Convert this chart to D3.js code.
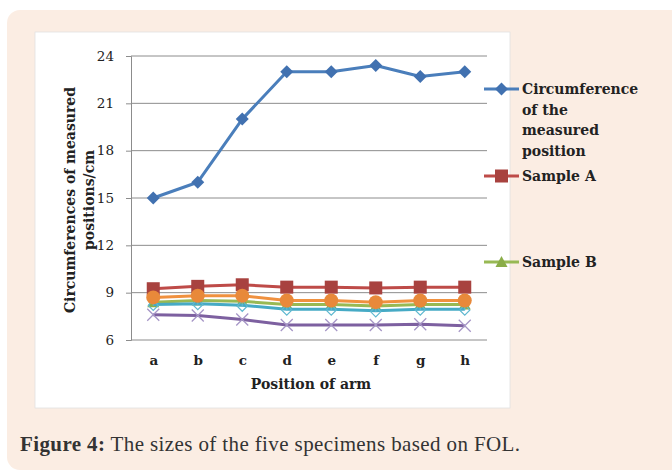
<!DOCTYPE html>
<html><head><meta charset="utf-8">
<script src="https://cdn.jsdelivr.net/npm/d3@7"></script>
<style>
html,body{margin:0;padding:0;background:#fff;}
svg{display:block;}
</style></head>
<body>
<svg id="chart" width="672" height="476"></svg>
<script>
const categories = ["a","b","c","d","e","f","g","h"];
const seriesNames = ["Circumference of the measured position","Sample A","Sample B","Sample C","Sample D","Sample E"];
const circumference = [15, 16, 20, 23, 23, 23.4, 22.7, 23];
const sampleA = [9.25, 9.4, 9.5, 9.35, 9.35, 9.3, 9.35, 9.35];
const sampleB = [8.4, 8.5, 8.45, 8.25, 8.25, 8.15, 8.25, 8.25];
const sampleC = [7.6, 7.55, 7.3, 6.95, 6.95, 6.95, 7.0, 6.9];
const sampleD = [8.25, 8.3, 8.2, 7.95, 7.95, 7.85, 7.95, 7.95];
const sampleE = [8.7, 8.8, 8.8, 8.5, 8.5, 8.4, 8.5, 8.5];
const yTicks = [6, 9, 12, 15, 18, 21, 24];
const legendShown = [0, 1, 2];

const seriesValues = [circumference, sampleA, sampleB, sampleC, sampleD, sampleE];
const colors = ["#4a7ebb", "#be4b48", "#98b954", "#7d60a0", "#46aac5", "#f0913f"];
const markerColors = ["#4171b0", "#a8423f", "#8aad48", "#a595c6", "#5fb8d0", "#e8893a"];
const markerTypes = ["diamond", "square", "triangle", "x", "star", "circle"];

const svg = d3.select("#chart");
const serif = "'DejaVu Serif', 'Liberation Serif', serif";

// background panels
svg.append("rect").attr("x", 7).attr("y", 10).attr("width", 690).attr("height", 460)
  .attr("rx", 13).attr("fill", "#fbede3");
svg.append("rect").attr("x", 35).attr("y", 32).attr("width", 475).attr("height", 376)
  .attr("fill", "#ffffff").attr("stroke", "#e2e2e2").attr("stroke-width", 0.8);

const x = d3.scalePoint().domain(categories).range([131, 487]).padding(0.5);
const y = d3.scaleLinear().domain([6, 24]).range([340, 56]);

// grid
svg.append("g").selectAll("line").data(yTicks.slice(1)).join("line")
  .attr("x1", 131).attr("x2", 487)
  .attr("y1", d => y(d)).attr("y2", d => y(d))
  .attr("stroke", "#8c8c8c").attr("stroke-width", 1);

// y axis
const yAxis = d3.axisLeft(y).tickValues(yTicks).tickSize(5).tickPadding(12).tickFormat(d3.format("d"));
const gy = svg.append("g").attr("transform", "translate(131,0)").call(yAxis);
gy.select(".domain").attr("stroke", "#8c8c8c");
gy.selectAll(".tick line").attr("stroke", "#8c8c8c");
gy.selectAll("text").attr("font-family", serif).attr("font-size", 13.5).attr("fill", "#222");

// x axis
const xAxis = d3.axisBottom(x).tickSize(0).tickPadding(15);
const gx = svg.append("g").attr("transform", "translate(0,340)").call(xAxis);
gx.select(".domain").attr("stroke", "#8c8c8c").attr("d", "M131,0H487");
gx.selectAll("text").attr("font-family", serif).attr("font-size", 13.5).attr("font-weight", "bold").attr("fill", "#222");

// axis titles
svg.append("text").attr("x", 311).attr("y", 389).attr("text-anchor", "middle")
  .attr("font-family", serif).attr("font-weight", "bold").attr("font-size", 14).attr("fill", "#222")
  .text("Position of arm");
const yt = svg.append("text").attr("transform", "translate(75,200) rotate(-90)")
  .attr("text-anchor", "middle").attr("font-family", serif).attr("font-weight", "bold")
  .attr("font-size", 14).attr("fill", "#222");
yt.append("tspan").attr("x", 0).attr("y", 0).text("Circumferences of measured");
yt.append("tspan").attr("x", 0).attr("y", 19).text("positions/cm");

// marker drawing
function drawMarker(g, type, cx, cy, col) {
  if (type === "diamond") {
    g.append("path").attr("d", `M${cx},${cy-6.5}L${cx+6.5},${cy}L${cx},${cy+6.5}L${cx-6.5},${cy}Z`).attr("fill", col);
  } else if (type === "square") {
    g.append("rect").attr("x", cx-6.5).attr("y", cy-6.5).attr("width", 13).attr("height", 13).attr("fill", col);
  } else if (type === "triangle") {
    g.append("path").attr("d", `M${cx},${cy-6}L${cx+6},${cy+5}L${cx-6},${cy+5}Z`).attr("fill", col);
  } else if (type === "circle") {
    g.append("circle").attr("cx", cx).attr("cy", cy).attr("r", 7).attr("fill", col);
  } else if (type === "x") {
    g.append("path").attr("d", `M${cx-6},${cy-6}L${cx+6},${cy+6}M${cx+6},${cy-6}L${cx-6},${cy+6}`)
      .attr("stroke", col).attr("stroke-width", 1.3).attr("fill", "none");
  } else if (type === "star") {
    g.append("path").attr("d", `M${cx},${cy-5}L${cx+5},${cy+1}L${cx},${cy+6}L${cx-5},${cy+1}ZM${cx},${cy-6}V${cy+1}`)
      .attr("stroke", col).attr("stroke-width", 1.2).attr("fill", "none");
  }
}

const line = d3.line().x((d, i) => x(categories[i])).y(d => y(d));
seriesValues.forEach((vals, si) => {
  const g = svg.append("g");
  g.append("path").datum(vals).attr("d", line)
    .attr("fill", "none").attr("stroke", colors[si]).attr("stroke-width", 3).attr("stroke-linejoin", "round");
  vals.forEach((v, i) => drawMarker(g, markerTypes[si], x(categories[i]), y(v), markerColors[si]));
});

// legend
const legendRows = [{y: 89, lines: ["Circumference", "of the", "measured", "position"]},
                    {y: 176, lines: ["Sample A"]},
                    {y: 262, lines: ["Sample B"]}];
legendShown.forEach((si, k) => {
  const r = legendRows[k];
  const g = svg.append("g");
  g.append("line").attr("x1", 484).attr("x2", 519).attr("y1", r.y).attr("y2", r.y)
    .attr("stroke", colors[si]).attr("stroke-width", 3);
  drawMarker(g, markerTypes[si], 501.5, r.y, markerColors[si]);
  const t = g.append("text").attr("font-family", serif).attr("font-weight", "bold")
    .attr("font-size", 14).attr("fill", "#222");
  r.lines.forEach((s, j) => t.append("tspan").attr("x", 522).attr("y", r.y + 5 + j * 20.5).text(s));
});

// caption
const cap = svg.append("text").attr("x", 20).attr("y", 451).attr("font-family", "'Liberation Serif', serif")
  .attr("font-size", 21).attr("fill", "#333")
  .attr("textLength", 500).attr("lengthAdjust", "spacing");
cap.append("tspan").attr("font-weight", "bold").text("Figure 4:");
cap.append("tspan").text(" The sizes of the five specimens based on FOL.");
</script>
</body></html>
